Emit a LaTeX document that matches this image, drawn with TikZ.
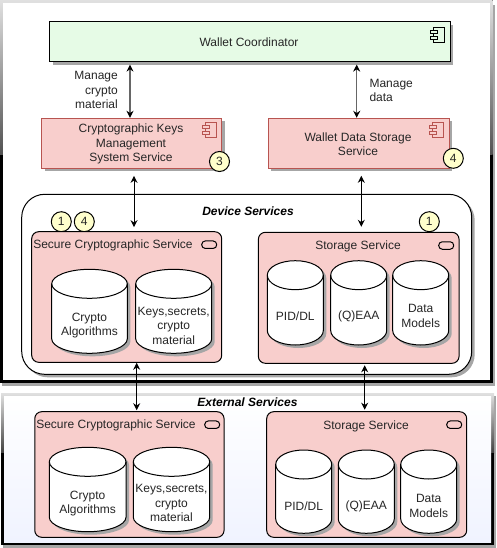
\documentclass[tikz,border=0pt]{standalone}
\usepackage{fontspec}
\setmainfont{Liberation Sans}
\usetikzlibrary{arrows.meta,shadows}

\definecolor{walletgreen}{HTML}{E6FBE6}
\definecolor{svcred}{HTML}{F8CECC}
\definecolor{svcline}{HTML}{B85450}
\definecolor{badgeyellow}{HTML}{FFFFCC}
\definecolor{extblue}{HTML}{F0F3FF}

\tikzset{
  softshadow/.style={drop shadow={shadow xshift=3pt,shadow yshift=-3pt,fill=black!35,opacity=1}},
  txt/.style={font=\fontsize{12}{14.5}\selectfont,text=black!85,align=center,inner sep=0pt,yshift=-1pt},
  title/.style={font=\fontsize{12}{14.5}\selectfont\bfseries\itshape,inner sep=0pt,yshift=-1pt},
  greenbox/.style={draw=black,line width=1pt,fill=walletgreen,softshadow,inner sep=0pt},
  redbox/.style={draw=svcline,line width=1pt,fill=svcred,softshadow,inner sep=0pt},
  svcbox/.style={draw=black,line width=1pt,fill=svcred,rounded corners=7pt,inner sep=0pt},
  pill/.style={draw=black,line width=1pt,rounded corners=3.6pt,minimum width=15pt,minimum height=7.5pt,inner sep=0pt},
  badge/.style={circle,draw=black,line width=1pt,fill=badgeyellow,minimum size=20pt,inner sep=0pt,font=\fontsize{12}{14}\selectfont,text=black!85},
  link/.style={<->,>={Stealth[length=7pt,width=7pt]},line width=1pt},
  linkgray/.style={link,draw=black!60,line width=1.4pt,{Stealth[length=7pt,width=7pt,black]}-{Stealth[length=7pt,width=7pt,black]}},
  compicon/.pic={
    \draw[pic actions] (3,0) rectangle (14,14.5);
    \draw[pic actions] (0,3) rectangle (7,6);
    \draw[pic actions] (0,8.5) rectangle (7,11.5);
  }
}

\begin{document}
\begin{tikzpicture}[x=1pt,y=-1pt]
  \useasboundingbox (0,0) rectangle (496,548);

  % outer frames
  \fill[black!35] (2,5) rectangle (495,386);
  \fill[top color=black!12,bottom color=black!68] (0,0) rectangle (492.5,155);
  \fill[black] (0,155) rectangle (492.5,383);
  \fill[white] (3,3) rectangle (490,380);

  \fill[black!35] (3,396) rectangle (496,548);
  \fill[top color=black!12,bottom color=black!75] (1,393) rectangle (494,453);
  \fill[black] (1,453) rectangle (494,545);
  \fill[top color=white,bottom color=extblue] (4,396) rectangle (491,542);

  % top row
  \node[greenbox,minimum width=400.5pt,minimum height=40pt] (wc) at (249.8,41.6) {};
  \node[txt] (wclbl) at (249,41) {Wallet Coordinator};
  \pic[draw=black,fill=walletgreen,line width=1pt] (wcicon) at (430,28) {compicon};

  \node[redbox,minimum width=180pt,minimum height=50pt] (kms) at (131.6,143.3) {};
  \node[txt] (kmslbl) at (131,143) {Cryptographic Keys\\Management\\System Service};
  \pic[draw=svcline,fill=svcred,line width=1pt] (kmsicon) at (202,123) {compicon};
  \node[badge] (bthree) at (219.5,161.5) {3};

  \node[redbox,minimum width=180.7pt,minimum height=50pt] (wds) at (358.7,143.3) {};
  \node[txt] (wdslbl) at (358,143.2) {Wallet Data Storage\\Service};
  \pic[draw=svcline,fill=svcred,line width=1pt] (wdsicon) at (429,123) {compicon};
  \node[badge] (bfour) at (453.3,158.3) {4};

  \node[txt,anchor=east,align=right] (mcm) at (118,89) {Manage\\crypto\\material};
  \node[txt,anchor=west,align=left] (mdt) at (369.3,89.3) {Manage\\data};

  % device services
  \node[draw=black,line width=1pt,fill=white,rounded corners=23pt,softshadow,minimum width=450pt,minimum height=180pt] (dev) at (246.7,284.3) {};
  \node[title] (devlbl) at (248,210.7) {Device Services};

  \node[badge] (bone) at (61.3,221.7) {1};
  \node[badge] (bfourb) at (84.3,221.7) {4};
  \node[badge] (bones) at (429.3,221.7) {1};

  \node[svcbox,minimum width=190pt,minimum height=130.6pt] (sec) at (126.7,297) {};
  \node[txt] (seclbl) at (113,244.3) {Secure Cryptographic Service};
  \node[pill] (secpill) at (209.2,244.7) {};

  \node[svcbox,minimum width=200.7pt,minimum height=131pt] (sto) at (358.7,297.8) {};
  \node[txt] (stolbl) at (358,245.7) {Storage Service};
  \node[pill] (stopill) at (446.2,245.5) {};

  % external services
  \node[title] (extlbl) at (247.5,401.5) {External Services};

  \node[svcbox,minimum width=189.3pt,minimum height=125.6pt] (xsec) at (129.4,474.5) {};
  \node[txt] (xseclbl) at (116,424.3) {Secure Cryptographic Service};
  \node[pill] (xsecpill) at (212.2,424.7) {};

  \node[svcbox,minimum width=200pt,minimum height=125.6pt] (xsto) at (366.7,474.5) {};
  \node[txt] (xstolbl) at (366,425) {Storage Service};
  \node[pill] (xstopill) at (454.2,424.7) {};

  % cylinders
  \foreach \nm/\xa/\xb/\ya/\yb/\ty/\lbl in {
    cala/51.7/127.3/269.3/353.3/324.8/{Crypto\\Algorithms},
    ckey/135.7/211.7/269.3/353.3/324.5/{Keys,secrets,\\crypto\\material},
    cpid/267.3/323.3/260.7/345/315/{PID/DL},
    ceaa/330.7/386.7/260.7/345/315/{(Q)EAA},
    cdm/392.7/448.7/260.7/345/315/{Data\\Models},
    xala/49.3/126/447.3/531.7/502.7/{Crypto\\Algorithms},
    xkey/133.3/209.7/447.3/531.7/502/{Keys,secrets,\\crypto\\material},
    xpid/275.7/331.7/450/533.3/505/{PID/DL},
    xeaa/338.3/394.3/450/533.3/505/{(Q)EAA},
    xdm/400.7/456.7/450/533.3/505/{Data\\Models}} {
    \pgfmathsetmacro{\rx}{(\xb-\xa)/2}
    \pgfmathsetmacro{\ym}{\ya+14.5}
    \pgfmathsetmacro{\yc}{\yb-14.5}
    \pgfmathsetmacro{\xc}{(\xa+\xb)/2}
    \draw[line width=1pt,fill=white,softshadow]
      (\xa,\ym) -- (\xa,\yc) arc[start angle=180,end angle=360,x radius=\rx pt,y radius=14.5pt]
      -- (\xb,\ym) arc[start angle=0,end angle=180,x radius=\rx pt,y radius=14.5pt] -- cycle;
    \draw[line width=1pt] (\xb,\ym) arc[start angle=0,end angle=-180,x radius=\rx pt,y radius=14.5pt];
    \node[txt] (\nm) at (\xc,\ty) {\lbl};
  }

  % connectors
  \draw[linkgray,shorten <=2.5pt] ([xshift=-1.6pt]kms.north |- wc.south) -- ([xshift=-1.6pt]kms.north);
  \draw[linkgray,shorten <=2.5pt] ([xshift=-2pt]wds.north |- wc.south) -- ([xshift=-2pt]wds.north);
  \draw[link,shorten <=7pt,shorten >=4pt] ([xshift=2.4pt]kms.south) -- ([xshift=2.4pt]kms.south |- sec.north);
  \draw[link,shorten <=7pt,shorten >=5pt] ([xshift=2.6pt]wds.south) -- ([xshift=2.6pt]wds.south |- sto.north);
  \draw[link,shorten >=1pt] ([xshift=10pt]sec.south) -- ([xshift=10pt]sec.south |- xsec.north);
  \draw[link,shorten >=1.5pt] ([xshift=6pt]sto.south) ++(0,1.5) -- ([xshift=6pt]sto.south |- xsto.north);
\end{tikzpicture}
\end{document}
